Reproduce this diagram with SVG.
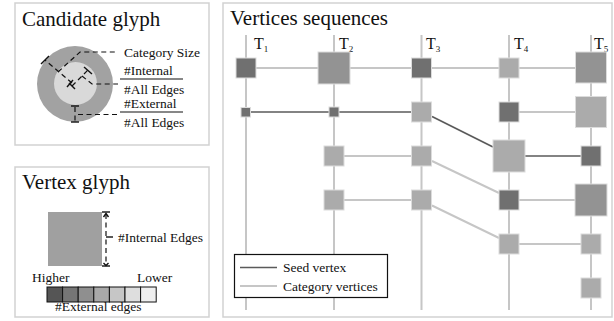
<svg xmlns="http://www.w3.org/2000/svg" width="614" height="321" viewBox="0 0 614 321" font-family="'Liberation Serif', 'Times New Roman', serif">
<style>
text{font-family:"Liberation Serif","Times New Roman",serif;fill:#111}
.title{font-size:21px;font-family:"Liberation Serif","Times New Roman",serif}
.lbl{font-size:13.5px}
.panel{fill:#fff;stroke:#d2d2d2;stroke-width:1.5}
.dim{stroke:#111;stroke-width:1.2;fill:none;stroke-dasharray:5,3.5}
.tick{stroke:#111;stroke-width:1.4;fill:none}
.frac{stroke:#111;stroke-width:1.2}
.cat{stroke:#c6c6c6;stroke-width:2;fill:none}
.seed{stroke:#5a5a5a;stroke-width:1.6;fill:none}
.n{stroke:#dcdcdc;stroke-width:1}
.dk{fill:#707070}
.md{fill:#939393}
.lt{fill:#ababab}
.tl{font-size:16px}
.sub{font-size:9px}
</style>
<rect width="614" height="321" fill="#fff"/>

<g id="candidate-glyph">
<rect class="panel" x="15" y="3" width="194" height="142"/>
<text class="title" x="22" y="26" font-family="'Liberation Serif', serif">Candidate glyph</text>
<circle cx="75" cy="84" r="38" fill="#a2a2a2"/>
<circle cx="75.5" cy="83.5" r="21.5" fill="#d9d9d9"/>
<line class="dim" x1="72" y1="83" x2="45" y2="60"/>
<line class="tick" x1="41" y1="64" x2="49" y2="56"/>
<line class="tick" x1="67" y1="87" x2="73" y2="80"/>
<line class="dim" x1="72" y1="86" x2="88" y2="70"/>
<line class="tick" x1="84" y1="67" x2="92" y2="74"/>
<line class="tick" x1="69" y1="83" x2="75" y2="89"/>
<polyline class="dim" points="58,72 80,52 118,52"/>
<polyline class="dim" points="82,76 92,84 118,84"/>
<line class="dim" x1="75" y1="107" x2="75" y2="121"/>
<line class="tick" x1="71" y1="106" x2="79" y2="106"/>
<line class="tick" x1="71" y1="122" x2="79" y2="122"/>
<line class="dim" x1="78" y1="114.5" x2="118" y2="114.5"/>
<text class="lbl" x="124" y="57">Category Size</text>
<text class="lbl" x="124" y="75">#Internal</text>
<line class="frac" x1="120" y1="79" x2="183" y2="79"/>
<text class="lbl" x="124" y="94">#All Edges</text>
<text class="lbl" x="124" y="108">#External</text>
<line class="frac" x1="120" y1="112" x2="183" y2="112"/>
<text class="lbl" x="124" y="127">#All Edges</text>
</g>

<g id="vertex-glyph">
<rect class="panel" x="15" y="167" width="194" height="150"/>
<text class="title" x="22" y="189" font-family="'Liberation Serif', serif">Vertex glyph</text>
<rect x="48" y="212" width="54" height="54" fill="#a0a0a0"/>
<line class="tick" x1="102" y1="212" x2="110" y2="212"/>
<line class="tick" x1="102" y1="266" x2="110" y2="266"/>
<line class="dim" x1="106" y1="214" x2="106" y2="264"/>
<polyline class="tick" points="103.5,217 106,213.5 108.5,217"/>
<polyline class="tick" points="103.5,263 106,265.5 108.5,263"/>
<line class="tick" x1="106" y1="237" x2="113" y2="237"/>
<text class="lbl" x="118" y="242">#Internal Edges</text>
<text class="lbl" x="32" y="282">Higher</text>
<text class="lbl" x="137" y="282">Lower</text>
<g stroke="#111" stroke-width="1">
<rect x="47" y="287" width="15.6" height="15" fill="#555"/>
<rect x="62.6" y="287" width="15.6" height="15" fill="#767676"/>
<rect x="78.2" y="287" width="15.6" height="15" fill="#8f8f8f"/>
<rect x="93.8" y="287" width="15.6" height="15" fill="#a9a9a9"/>
<rect x="109.4" y="287" width="15.6" height="15" fill="#c6c6c6"/>
<rect x="125" y="287" width="15.6" height="15" fill="#dedede"/>
<rect x="140.6" y="287" width="15.6" height="15" fill="#efefef"/>
</g>
<text class="lbl" x="55" y="311">#External edges</text>
</g>

<g id="vertices-sequences">
<rect class="panel" x="223" y="3" width="389" height="314"/>
<text class="title" x="230" y="25" font-family="'Liberation Serif', serif">Vertices sequences</text>
</g>

<g id="connectors">
<line class="cat" x1="246" y1="35" x2="246" y2="310"/>
<line class="cat" x1="334" y1="35" x2="334" y2="310"/>
<line class="cat" x1="421.5" y1="35" x2="421.5" y2="310"/>
<line class="cat" x1="509" y1="35" x2="509" y2="310"/>
<line class="cat" x1="591" y1="35" x2="591" y2="310"/>
<line class="cat" x1="246" y1="68" x2="591" y2="68"/>
<line class="cat" x1="509" y1="112" x2="591" y2="112"/>
<line class="cat" x1="334" y1="156" x2="421.5" y2="156"/>
<line class="cat" x1="334" y1="200" x2="421.5" y2="200"/>
<line class="cat" x1="509" y1="200" x2="591" y2="200"/>
<line class="cat" x1="509" y1="244" x2="591" y2="244"/>
<line class="cat" x1="432" y1="161" x2="499" y2="193"/>
<line class="cat" x1="432" y1="205.5" x2="499" y2="238"/>
<line class="seed" x1="246" y1="112" x2="421.5" y2="112"/>
<line class="seed" x1="432" y1="116.5" x2="493" y2="147"/>
<line class="seed" x1="509" y1="156" x2="591" y2="156"/>
</g>

<g id="labels">
<text class="tl" x="254" y="49">T<tspan class="sub" dy="3">1</tspan></text>
<text class="tl" x="339" y="49">T<tspan class="sub" dy="3">2</tspan></text>
<text class="tl" x="426" y="49">T<tspan class="sub" dy="3">3</tspan></text>
<text class="tl" x="514" y="49">T<tspan class="sub" dy="3">4</tspan></text>
<text class="tl" x="594" y="49">T<tspan class="sub" dy="3">5</tspan></text>
</g>

<g id="nodes">
<rect id="n1-1" class="n dk" x="236" y="58" width="20" height="20"/>
<rect id="n2-1" class="n md" x="318" y="52" width="32" height="32"/>
<rect id="n3-1" class="n dk" x="411.5" y="58" width="20" height="20"/>
<rect id="n4-1" class="n lt" x="499" y="58" width="20" height="20"/>
<rect id="n5-1" class="n md" x="575.5" y="52" width="31" height="31"/>
<rect id="n1-2" class="n dk" x="241" y="107.5" width="9.5" height="9.5"/>
<rect id="n2-2" class="n dk" x="329" y="107" width="10" height="10"/>
<rect id="n3-2" class="n lt" x="411.5" y="102" width="20" height="20"/>
<rect id="n4-2" class="n dk" x="499" y="102" width="20" height="20"/>
<rect id="n5-2" class="n lt" x="575.5" y="96.5" width="31" height="31"/>
<rect id="n2-3" class="n lt" x="324" y="146" width="20" height="20"/>
<rect id="n3-3" class="n lt" x="411.5" y="146" width="20" height="20"/>
<rect id="n4-3" class="n lt" x="493" y="140" width="32" height="32"/>
<rect id="n5-3" class="n dk" x="581" y="146" width="20" height="20"/>
<rect id="n2-4" class="n lt" x="324" y="190" width="20" height="20"/>
<rect id="n3-4" class="n lt" x="411.5" y="190" width="20" height="20"/>
<rect id="n4-4" class="n dk" x="499" y="190" width="20" height="20"/>
<rect id="n5-4" class="n md" x="575" y="184" width="32" height="32"/>
<rect id="n4-5" class="n lt" x="499" y="234" width="20" height="20"/>
<rect id="n5-5" class="n lt" x="581" y="234" width="20" height="20"/>
<rect id="n5-6" class="n lt" x="581" y="278" width="20" height="20"/>
</g>

<g id="legend">
<rect x="234.5" y="254.5" width="153" height="43" fill="#fff" stroke="#111" stroke-width="1.2"/>
<line class="seed" x1="240" y1="267.5" x2="277" y2="267.5"/>
<text class="lbl" x="283" y="272">Seed vertex</text>
<line class="cat" x1="240" y1="286" x2="277" y2="286"/>
<text class="lbl" x="283" y="290.5">Category vertices</text>
</g>
</svg>
